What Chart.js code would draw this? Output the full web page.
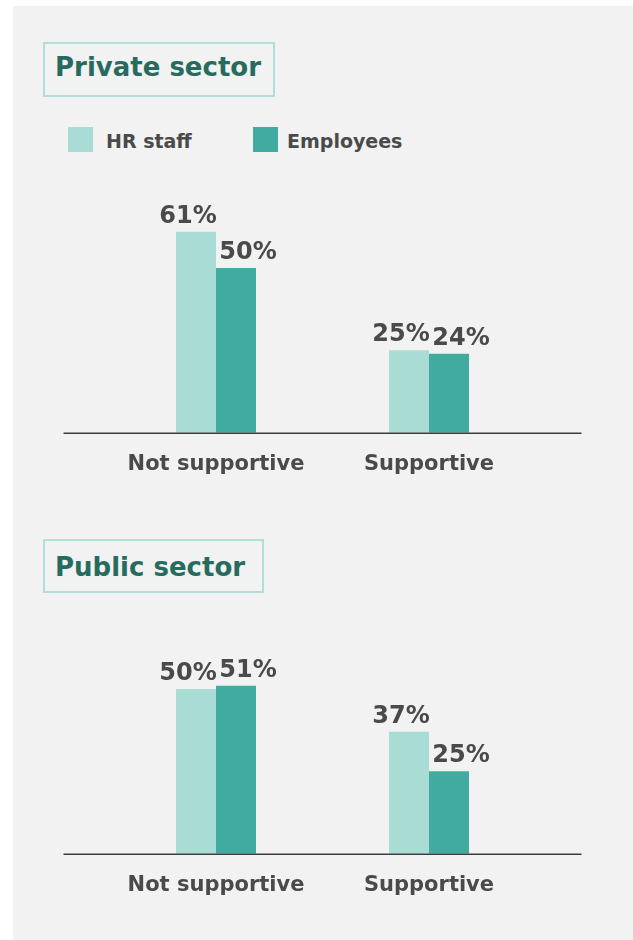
<!DOCTYPE html>
<html>
<head>
<meta charset="utf-8">
<script src="https://cdn.jsdelivr.net/npm/chart.js@4"></script>
<style>
  body { margin: 0; width: 633px; height: 940px; background: #fff; position: relative; overflow: hidden; font-family: "DejaVu Sans", sans-serif; font-weight: bold; }
  .panel { position: absolute; left: 13px; top: 6px; right: 0; bottom: 0; background: #f2f2f2; }
  .title { position: absolute; left: 43px; box-sizing: border-box; border: 2px solid #b0dfd8; color: #276b5f; font-size: 26px; line-height: 26px; padding-left: 10px; white-space: nowrap; }
  .swatch { position: absolute; width: 25px; height: 25px; top: 127px; }
  .legend-text { position: absolute; top: 132px; font-size: 19px; line-height: 19px; color: #4a4a4a; white-space: nowrap; }
  canvas { position: absolute; left: 0; }
</style>
</head>
<body>
<div class="panel"></div>

<div class="title" style="top:42px; width:232px; height:55px; padding-top:10px;">Private sector</div>
<div class="swatch" style="left:68px; background:#aadcd6;"></div>
<div class="legend-text" style="left:106px;">HR staff</div>
<div class="swatch" style="left:253px; background:#42ab9f;"></div>
<div class="legend-text" style="left:287px;">Employees</div>
<canvas id="privateChart" width="633" height="320" style="top:190px;"></canvas>

<div class="title" style="top:539px; width:221px; height:54px; padding-top:13px;">Public sector</div>
<canvas id="publicChart" width="633" height="320" style="top:611px;"></canvas>

<script>
// Survey answers, in percent
const categories = ['Not supportive', 'Supportive'];
const seriesNames = ['HR staff', 'Employees'];
const privateHr = [61, 25];
const privateEmployees = [50, 24];
const publicHr = [50, 37];
const publicEmployees = [51, 25];

const HR_COLOR = '#aadcd6';
const EMP_COLOR = '#42ab9f';
const TEXT_COLOR = '#4a4a4a';
const FONT = '"DejaVu Sans", sans-serif';

// percentage labels above each bar, nudged apart so neighbours don't collide
const valueLabels = {
    id: 'valueLabels',
    afterDatasetsDraw(chart, args, opts) {
        const ctx = chart.ctx;
        ctx.save();
        ctx.font = `bold ${opts.size}px ${FONT}`;
        ctx.fillStyle = TEXT_COLOR;
        ctx.textAlign = 'center';
        ctx.textBaseline = 'alphabetic';
        chart.data.datasets.forEach((ds, i) => {
            const meta = chart.getDatasetMeta(i);
            const dx = opts.nudge[i] || 0;
            meta.data.forEach((bar, j) => {
                ctx.fillText(ds.data[j] + '%', bar.x + dx, bar.y - opts.gap);
            });
        });
        ctx.restore();
    }
};

// baseline under the bars, running a little past the plot area on both sides
const baseLine = {
    id: 'baseLine',
    afterDatasetsDraw(chart, args, opts) {
        const { ctx, chartArea } = chart;
        ctx.save();
        ctx.strokeStyle = '#3c3c3c';
        ctx.lineWidth = 1.5;
        ctx.beginPath();
        ctx.moveTo(chartArea.left - opts.overhang, chartArea.bottom + 0.5);
        ctx.lineTo(chartArea.right + opts.overhang, chartArea.bottom + 0.5);
        ctx.stroke();
        ctx.restore();
    }
};

function makeChart(id, hr, emp) {
    const ctx = document.getElementById(id).getContext('2d');
    return new Chart(ctx, {
        type: 'bar',
        data: {
            labels: categories,
            datasets: [
                { label: seriesNames[0], data: hr, backgroundColor: HR_COLOR },
                { label: seriesNames[1], data: emp, backgroundColor: EMP_COLOR }
            ]
        },
        options: {
            responsive: false,
            animation: false,
            devicePixelRatio: 1,
            categoryPercentage: 0.3756,
            barPercentage: 1,
            layout: { padding: { top: 12, left: 109.5, right: 97.5, bottom: 14 } },
            scales: {
                x: {
                    grid: { display: false, drawTicks: false },
                    border: { display: false },
                    ticks: {
                        color: TEXT_COLOR,
                        padding: 19,
                        font: { family: FONT, size: 21, weight: 'bold' }
                    }
                },
                y: { display: false, min: 0, max: 70 }
            },
            plugins: {
                legend: { display: false },
                tooltip: { enabled: false },
                valueLabels: { size: 24, gap: 9, nudge: [-8, 12] },
                baseLine: { overhang: 46 }
            }
        },
        plugins: [valueLabels, baseLine]
    });
}

makeChart('privateChart', privateHr, privateEmployees);
makeChart('publicChart', publicHr, publicEmployees);
</script>
</body>
</html>
